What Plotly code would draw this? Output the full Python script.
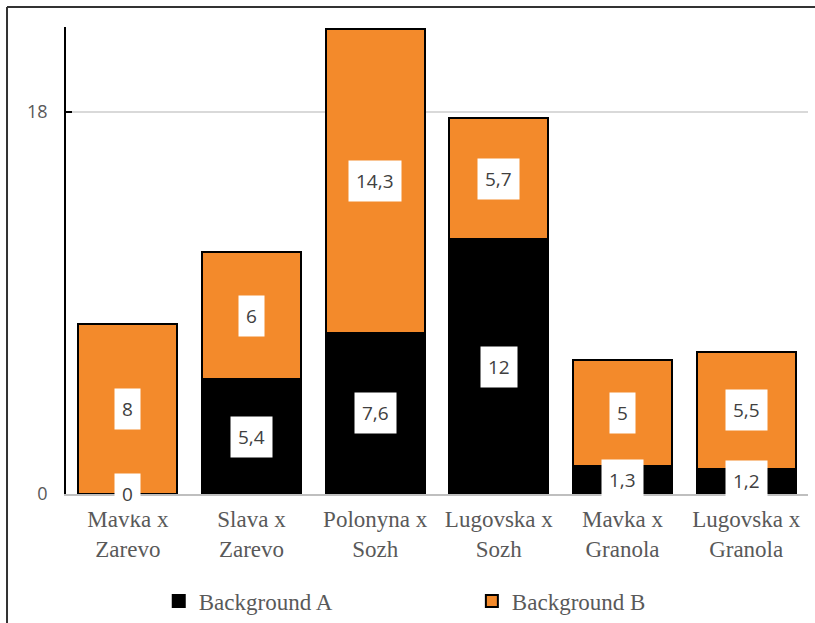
import plotly.graph_objects as go

categories = ["Mavka x<br>Zarevo", "Slava x<br>Zarevo", "Polonyna x<br>Sozh",
              "Lugovska x<br>Sozh", "Mavka x<br>Granola", "Lugovska x<br>Granola"]
background_a = [0, 5.4, 7.6, 12, 1.3, 1.2]
background_b = [8, 6, 14.3, 5.7, 5, 5.5]
y_ticks = [0, 18]

ORANGE = "#F38A2B"
SANS = "Open Sans, Liberation Sans, sans-serif"
SERIF = "Liberation Serif, Times New Roman, serif"
LABEL_FONT = dict(family=SANS, size=19, color="#404040")
LEGEND_FONT = dict(family=SERIF, size=23, color="#595959")


def fmt(v):
    return (f"{v:g}").replace(".", ",")


fig = go.Figure()
fig.add_trace(go.Bar(
    name="Background A", x=categories, y=background_a, legend="legend",
    marker=dict(color="black", line=dict(color="black", width=2)),
))
fig.add_trace(go.Bar(
    name="Background B", x=categories, y=background_b, legend="legend2",
    marker=dict(color=ORANGE, line=dict(color="black", width=2)),
))

# value labels in white boxes, centred on each segment
for cat, a, b in zip(categories, background_a, background_b):
    for y, v in ((a / 2, a), (a + b / 2, b)):
        fig.add_annotation(
            x=cat, y=y, text=fmt(v), showarrow=False,
            font=LABEL_FONT, bgcolor="white", borderpad=7,
        )

# outer chart frame (left and top edges)
frame = dict(color="#333333", width=2)
fig.add_shape(type="line", xref="paper", yref="paper",
              x0=-0.0795, x1=-0.0795, y0=-0.4, y1=1.0428, line=frame)
fig.add_shape(type="line", xref="paper", yref="paper",
              x0=-0.0795, x1=1.02, y0=1.0428, y1=1.0428, line=frame)

legend_common = dict(
    orientation="h", yanchor="middle", y=-0.229, xanchor="left",
    font=LEGEND_FONT, bgcolor="rgba(0,0,0,0)", itemsizing="constant",
)

fig.update_layout(
    barmode="stack",
    bargap=0.2,
    width=815, height=623,
    margin=dict(l=66, r=7, t=27, b=129, autoexpand=False),
    plot_bgcolor="white", paper_bgcolor="white",
    showlegend=True,
    legend=dict(x=0.125, **legend_common),
    legend2=dict(x=0.547, **legend_common),
    xaxis=dict(
        showline=True, linecolor="#BFBFBF", linewidth=1.5,
        tickfont=dict(family=SERIF, size=23, color="#595959"),
        ticks="", showgrid=False, automargin=False,
        ticklabelstandoff=4,
    ),
    yaxis=dict(
        range=[0, 22], tickvals=y_ticks, ticktext=[str(t) for t in y_ticks],
        showline=True, linecolor="black", linewidth=1.5,
        ticks="inside", ticklen=6, tickcolor="black", tickwidth=1.5,
        showgrid=True, gridcolor="#D9D9D9", gridwidth=1.5,
        zeroline=False, automargin=False,
        tickfont=dict(family=SANS, size=18, color="#595959"),
        ticklabelstandoff=13,
    ),
)

fig.write_html("out.html")
